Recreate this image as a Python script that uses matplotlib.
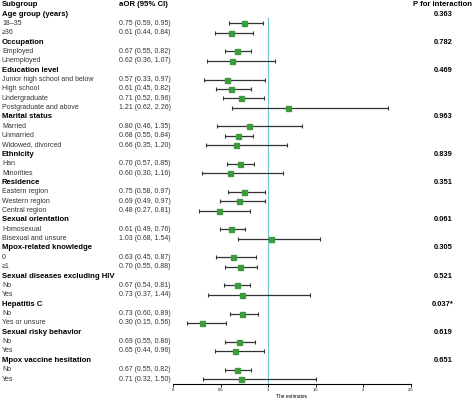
import matplotlib.pyplot as plt
from matplotlib.transforms import blended_transform_factory

plt.rcParams['font.family'] = ['Liberation Sans', 'DejaVu Sans']

# Subgroups (group header, then its levels)
groups = ["Age group (years)", "Occupation", "Education level", "Marital status",
          "Ethnicity", "Residence", "Sexual orientation", "Mpox-related knowledge",
          "Sexual diseases excluding HIV", "Hepatitis C", "Sexual risky behavior",
          "Mpox vaccine hesitation"]
levels = [["18\u201335", "\u226536"],
          ["Employed", "Unemployed"],
          ["Junior high school and below", "High school", "Undergraduate", "Postgraduate and above"],
          ["Married", "Unmarried", "Widowed, divorced"],
          ["Han", "Minorities"],
          ["Eastern region", "Western region", "Central region"],
          ["Homosexual", "Bisexual and unsure"],
          ["0", "\u22651"],
          ["No", "Yes"],
          ["No", "Yes or unsure"],
          ["No", "Yes"],
          ["No", "Yes"]]
aor = [[0.75, 0.61], [0.67, 0.62], [0.57, 0.61, 0.71, 1.21], [0.80, 0.68, 0.66],
       [0.70, 0.60], [0.75, 0.69, 0.48], [0.61, 1.03], [0.63, 0.70], [0.67, 0.73],
       [0.73, 0.30], [0.69, 0.65], [0.67, 0.71]]
lower = [[0.59, 0.44], [0.55, 0.36], [0.33, 0.45, 0.52, 0.62], [0.46, 0.55, 0.35],
         [0.57, 0.30], [0.58, 0.49, 0.27], [0.49, 0.68], [0.45, 0.55], [0.54, 0.37],
         [0.60, 0.15], [0.55, 0.44], [0.55, 0.32]]
upper = [[0.95, 0.84], [0.82, 1.07], [0.97, 0.82, 0.96, 2.26], [1.35, 0.84, 1.20],
         [0.85, 1.16], [0.97, 0.97, 0.81], [0.76, 1.54], [0.87, 0.88], [0.81, 1.44],
         [0.89, 0.56], [0.86, 0.96], [0.82, 1.50]]
p_values = ["0.363", "0.782", "0.469", "0.963", "0.839", "0.351", "0.061", "0.305",
            "0.521", "0.037*", "0.619", "0.651"]
x_ticks = [0, 0.5, 1, 1.5, 2, 2.5]
x_ticklabels = ["0", "0.5", "1", "1.5", "2", "2.5"]

W, H = 474, 398
fig = plt.figure(figsize=(W / 100, H / 100), dpi=100)

# axes: x 0 -> px 173, 2.5 -> px 411 ; bottom spine at px 384
row0_px, step = 14, 9.36
ax = fig.add_axes([173 / W, (H - 384) / H, 238 / W, 384 / H])
ax.set_xlim(0, 2.5)
ybot = (384 - row0_px) / step + 1
ytop = 1 - row0_px / step
ax.set_ylim(ybot, ytop)

tr = blended_transform_factory(fig.transFigure, ax.transData)
txt_col = "#333333"

ax.text(2 / W, 0, "Subgroup", transform=tr, fontsize=5.6, fontweight="bold", va="center")
ax.text(119 / W, 0, "aOR (95% CI)", transform=tr, fontsize=5.6, fontweight="bold", va="center")
ax.text(413 / W, 0, "P for interaction", transform=tr, fontsize=5.6, fontweight="bold",
        va="center", clip_on=False)

row = 1
for g, name in enumerate(groups):
    ax.text(2 / W, row, name, transform=tr, fontsize=5.6, fontweight="bold", va="center")
    ax.text(443 / W, row, p_values[g], transform=tr, fontsize=5.4, fontweight="bold",
            va="center", ha="center")
    row += 1
    for j, lev in enumerate(levels[g]):
        ax.text(2 / W, row, lev, transform=tr, fontsize=5, va="center", color=txt_col)
        ax.text(119 / W, row, f"{aor[g][j]:.2f} ({lower[g][j]:.2f}, {upper[g][j]:.2f})",
                transform=tr, fontsize=5, va="center", color=txt_col)
        ax.errorbar(aor[g][j], row,
                    xerr=[[aor[g][j] - lower[g][j]], [upper[g][j] - aor[g][j]]],
                    fmt="s", color="#3d9a3d", markersize=3.6, ecolor="#333333",
                    elinewidth=0.9, capsize=1.2, capthick=0.8, zorder=3)
        row += 1

ax.axvline(1, ymin=0, ymax=(ybot - 1.4) / (ybot - ytop), color="#6cc6c6", lw=0.8, zorder=1)

for s in ["top", "right", "left"]:
    ax.spines[s].set_visible(False)
ax.spines["bottom"].set_linewidth(0.8)
ax.set_yticks([])
ax.set_xticks(x_ticks)
ax.set_xticklabels(x_ticklabels)
ax.tick_params(axis="x", labelsize=3, length=2, width=0.6, pad=1)
ax.set_xlabel("The estimates", fontsize=3.5, labelpad=1)

fig.savefig("out.png", dpi=100)
